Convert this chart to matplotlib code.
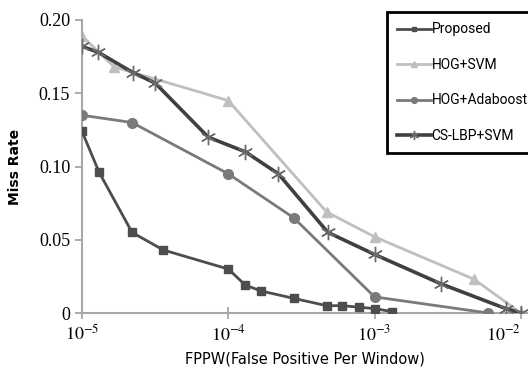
import numpy as np
import matplotlib.pyplot as plt

plt.rcParams['mathtext.fontset'] = 'stix'

# FPPW / miss rate values
prop_x = [1e-5, 1.31e-5, 2.2e-5, 3.6e-5, 1e-4, 1.31e-4, 1.68e-4, 2.8e-4, 4.7e-4, 6.0e-4, 7.8e-4, 1.0e-3, 1.31e-3]
prop_y = [0.124, 0.096, 0.055, 0.043, 0.030, 0.019, 0.015, 0.010, 0.005, 0.005, 0.004, 0.003, 0.001]

hogsvm_x = [1e-5, 1.66e-5, 1e-4, 4.7e-4, 1e-3, 4.8e-3, 1e-2]
hogsvm_y = [0.189, 0.168, 0.145, 0.069, 0.052, 0.023, 0.0]

hogada_x = [1e-5, 2.2e-5, 1e-4, 2.8e-4, 1e-3, 6.0e-3]
hogada_y = [0.135, 0.130, 0.095, 0.065, 0.011, 0.0]

cslbp_x = [1e-5, 1.29e-5, 2.24e-5, 3.16e-5, 7.3e-5, 1.31e-4, 2.2e-4, 4.8e-4, 1e-3, 2.83e-3, 7.9e-3, 1e-2]
cslbp_y = [0.182, 0.178, 0.164, 0.157, 0.120, 0.110, 0.095, 0.055, 0.040, 0.020, 0.003, 0.0]

yticks = [0, 0.05, 0.10, 0.15, 0.20]
ytick_labels = ['0', '0.05', '0.10', '0.15', '0.20']
xticks = [1e-5, 1e-4, 1e-3, 1e-2]
xtick_labels = [r'$10^{-5}$', r'$10^{-4}$', r'$10^{-3}$', r'$10^{-2}$']

fig = plt.figure(figsize=(5.28, 3.73), dpi=100)
ax = fig.add_axes([82 / 528, 1 - 313 / 373, 446 / 528, 293 / 373])

ax.plot(prop_x, prop_y, color='#4d4d4d', lw=2, marker='s', ms=6, label='Proposed', zorder=5)
ax.plot(hogsvm_x, hogsvm_y, color='#bfbfbf', lw=2, marker='^', ms=7, label='HOG+SVM', zorder=2)
ax.plot(hogada_x, hogada_y, color='#7a7a7a', lw=2, marker='o', ms=7, label='HOG+Adaboost', zorder=3)
ax.plot(cslbp_x, cslbp_y, color='#404040', lw=2.6, marker=(6, 2, 0), ms=11, mew=1,
        mec='#6a6a6a', label='CS-LBP+SVM', zorder=4)

ax.set_xscale('log')
ax.set_xlim(1e-5, 1.12e-2)
ax.set_ylim(0, 0.2)
ax.set_xticks(xticks)
ax.set_xticklabels(xtick_labels, fontsize=13)
ax.get_xticklabels()[-1].set_horizontalalignment('right')
ax.minorticks_off()
ax.set_yticks(yticks)
ax.set_yticklabels(ytick_labels, family='Liberation Serif', fontsize=13)
ax.tick_params(axis='both', color='#a0a0a0', length=5, width=1.2)
ax.tick_params(axis='x', direction='inout', length=8, pad=4)
for side in ['top', 'right']:
    ax.spines[side].set_visible(False)
for side in ['left', 'bottom']:
    ax.spines[side].set_color('#a8a8a8')
    ax.spines[side].set_linewidth(1.5)

ax.set_ylabel('Miss Rate', fontsize=10, fontweight='bold', labelpad=12)
ax.set_xlabel('FPPW(False Positive Per Window)', fontsize=10.5, labelpad=5)

leg = fig.legend(loc='upper left', bbox_to_anchor=(387 / 528, 1 - 12 / 373), borderaxespad=0,
                 prop={'family': 'Roboto', 'size': 10},
                 handlelength=2.4, handletextpad=0.05, labelspacing=1.55, borderpad=0.75,
                 fancybox=False, framealpha=1, edgecolor='black', markerscale=0.6)
leg.get_frame().set_linewidth(2)

fig.savefig('out.png', dpi=100)
